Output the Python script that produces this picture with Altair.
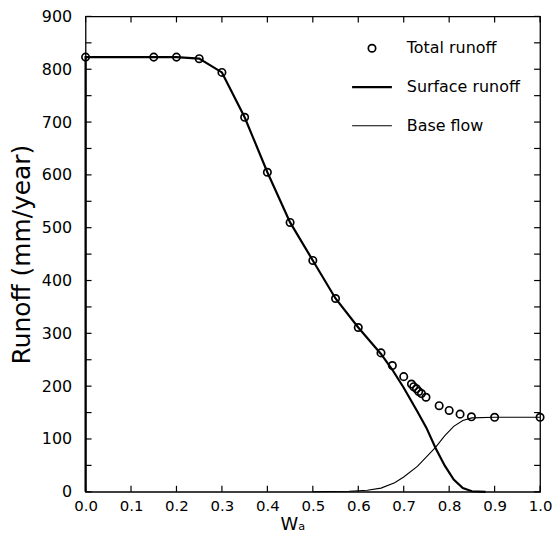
import altair as alt
import pandas as pd

# ---- data ----
w_total = [0.0, 0.15, 0.20, 0.25, 0.30, 0.35, 0.40, 0.45, 0.50, 0.55, 0.60, 0.65, 0.675, 0.70,
           0.717, 0.722, 0.728, 0.733, 0.739, 0.749, 0.778, 0.80, 0.824, 0.849, 0.90, 1.0]
v_total = [823, 823, 823, 820, 794, 709, 605, 510, 438, 366, 311, 263, 239, 218,
           204, 199, 195, 190, 186, 179, 163, 154, 147, 142, 141, 141]

w_surface = [0.0, 0.0, 0.15, 0.20, 0.25, 0.30, 0.35, 0.40, 0.45, 0.50, 0.55, 0.60, 0.65, 0.675,
             0.70, 0.73, 0.75, 0.77, 0.79, 0.81, 0.83, 0.85, 0.88]
v_surface = [0, 823, 823, 823, 820, 794, 709, 605, 510, 438, 366, 311, 261, 231,
             197, 152, 121, 83, 50, 23, 7, 1, 0]

w_base = [0.50, 0.58, 0.62, 0.65, 0.68, 0.70, 0.73, 0.75, 0.77, 0.79, 0.81, 0.83, 0.85, 0.90, 1.0]
v_base = [0, 1, 3, 7, 17, 28, 48, 66, 84, 106, 124, 135, 140, 141, 141]

series_names = ["Total runoff", "Surface runoff", "Base flow"]
x_ticks = [0.0, 0.1, 0.2, 0.3, 0.4, 0.5, 0.6, 0.7, 0.8, 0.9, 1.0]
y_ticks = list(range(0, 901, 50))

df_total = pd.DataFrame({"w": w_total, "v": v_total, "series": series_names[0]})
df_surface = pd.DataFrame({"w": w_surface, "v": v_surface, "series": series_names[1],
                           "i": list(range(len(w_surface)))})
df_base = pd.DataFrame({"w": w_base, "v": v_base, "series": series_names[2],
                        "i": list(range(len(w_base)))})
df_xt = pd.DataFrame({"t": x_ticks})
df_yt = pd.DataFrame({"t": y_ticks})

FONT = "DejaVu Sans"
xscale = alt.Scale(domain=[0, 1], nice=False, zero=False)
yscale = alt.Scale(domain=[0, 900], nice=False)

color_scale = alt.Scale(domain=series_names, range=["black", "black", "black"])
legend = alt.Legend(
    title=None, orient="none", legendX=280, legendY=24, padding=0,
    labelFont=FONT, labelFontSize=16, labelColor="black", labelOffset=27,
    symbolType={"expr": "datum.value === 'Total runoff' ? 'circle' : 'stroke'"},
    symbolSize={"expr": "datum.value === 'Total runoff' ? 55 : 1600"},
    symbolStrokeWidth={"expr": "datum.value === 'Surface runoff' ? 2.2 : (datum.value === 'Base flow' ? 1.1 : 1.7)"},
    symbolFillColor="transparent", symbolStrokeColor="black", symbolOpacity=1,
    rowPadding=23,
)
color = alt.Color("series:N", scale=color_scale, legend=legend)

x_axis = alt.Axis(values=x_ticks, format=".1f", labelPadding=7, labelFont=FONT,
                  labelFontSize=15, labelColor="black", labelFlush=False,
                  title="Wₐ", titleFont=FONT,
                  titleFontSize=18, titleFontWeight="normal", titleColor="black",
                  titleX=208, titlePadding=2, orient="bottom",
                  ticks=False, domain=False, grid=False)
y_axis = alt.Axis(values=y_ticks, labelExpr="datum.value % 100 == 0 ? datum.label : ''",
                  labelPadding=14, labelFont=FONT, labelFontSize=16, labelColor="black",
                  labelFlush=False,
                  title="Runoff (mm/year)", titleFont=FONT, titleFontSize=25,
                  titleFontWeight="normal", titleColor="black", titlePadding=7,
                  orient="left", ticks=False, domain=False, grid=False)

surface = alt.Chart(df_surface).mark_line(strokeWidth=2.2, color="black").encode(
    x=alt.X("w:Q", scale=xscale, axis=x_axis),
    y=alt.Y("v:Q", scale=yscale, axis=y_axis),
    order="i:Q",
    color=color,
)
base = alt.Chart(df_base).mark_line(strokeWidth=1.1, color="black").encode(
    x=alt.X("w:Q", scale=xscale, axis=x_axis),
    y=alt.Y("v:Q", scale=yscale, axis=y_axis),
    order="i:Q",
    color=color,
)
points = alt.Chart(df_total).mark_point(shape="circle", filled=False, size=55,
                                         strokeWidth=1.7, color="black", opacity=1).encode(
    x=alt.X("w:Q", scale=xscale, axis=x_axis),
    y=alt.Y("v:Q", scale=yscale, axis=y_axis),
    color=color,
)

# inward tick marks on all four sides of the frame (rules of fixed pixel length)
rule_style = dict(color="black", strokeWidth=1.2, opacity=1)
ticks_bottom = alt.Chart(df_xt).mark_rule(y2Offset=-6, **rule_style).encode(
    x=alt.X("t:Q", scale=xscale, axis=x_axis),
    y=alt.YDatum(0, scale=yscale, axis=y_axis),
    y2=alt.Y2Datum(0),
)
ticks_top = alt.Chart(df_xt).mark_rule(y2Offset=6, **rule_style).encode(
    x=alt.X("t:Q", scale=xscale, axis=x_axis),
    y=alt.YDatum(900, scale=yscale, axis=y_axis),
    y2=alt.Y2Datum(900),
)
ticks_left = alt.Chart(df_yt).mark_rule(x2Offset=6, **rule_style).encode(
    y=alt.Y("t:Q", scale=yscale, axis=y_axis),
    x=alt.XDatum(0, scale=xscale, axis=x_axis),
    x2=alt.X2Datum(0),
)
ticks_right = alt.Chart(df_yt).mark_rule(x2Offset=-6, **rule_style).encode(
    y=alt.Y("t:Q", scale=yscale, axis=y_axis),
    x=alt.XDatum(1, scale=xscale, axis=x_axis),
    x2=alt.X2Datum(1),
)

chart = alt.layer(surface, base, points, ticks_bottom, ticks_top, ticks_left,
                  ticks_right).properties(
    width=457, height=478,
    autosize=alt.AutoSizeParams(type="none"),
    padding={"left": 78, "top": 7, "right": 12, "bottom": 48},
    background="white",
).configure_view(stroke="black", strokeWidth=1.3)

chart.save("out.html", embed_options={"renderer": "svg", "actions": False})
